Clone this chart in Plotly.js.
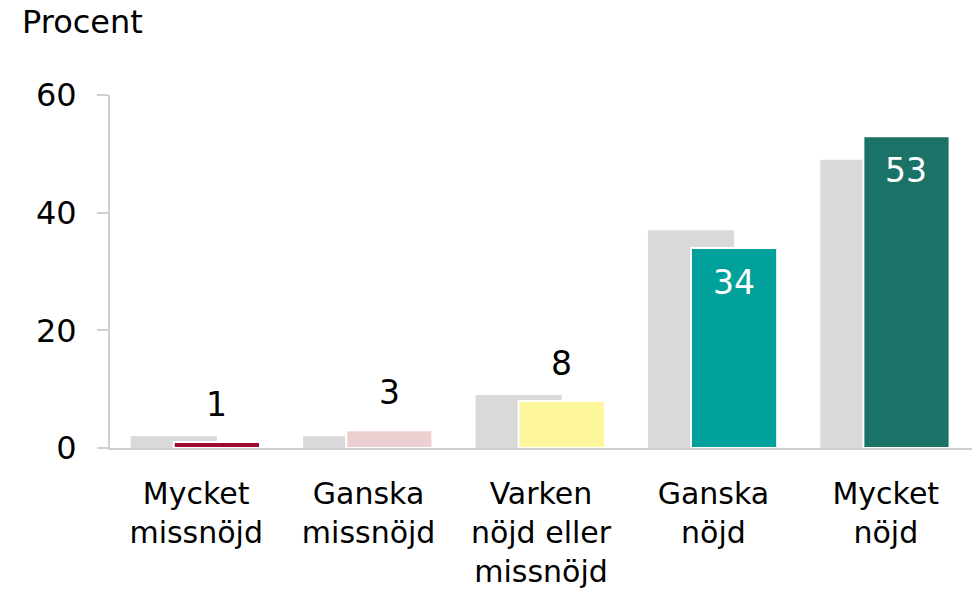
<!DOCTYPE html>
<html>
<head>
<meta charset="utf-8">
<script src="https://cdn.plot.ly/plotly-3.0.1.min.js"></script>
<style>html,body{margin:0;padding:0;background:#fff;}#chart{width:977px;height:595px;}</style>
</head>
<body>
<div id="chart"></div>
<script>
const categories = ["Mycket<br>missnöjd", "Ganska<br>missnöjd", "Varken<br>nöjd eller<br>missnöjd", "Ganska<br>nöjd", "Mycket<br>nöjd"];
const previousValues = [2, 2, 9, 37, 49];
const currentValues = [1, 3, 8, 34, 53];
const barColors = ["#9e0b2f", "#ecd0d1", "#fdf69b", "#00a19b", "#1b7266"];
const yTicks = [0, 20, 40, 60];

const xs = categories.map((c, i) => i);
const FONT = "DejaVu Sans, Arial, sans-serif";

const traces = [
  {
    type: "bar", x: xs, y: previousValues,
    width: 0.5, offset: -0.38,
    marker: {color: "#d9d9d9"},
    hoverinfo: "skip", showlegend: false
  },
  {
    type: "bar", x: xs, y: currentValues,
    width: 0.5, offset: -0.13,
    marker: {color: barColors, line: {color: "#ffffff", width: 2}},
    hoverinfo: "skip", showlegend: false
  }
];

const annotations = currentValues.map((v, i) => {
  const inside = v > 20;
  return {
    x: i + 0.12, y: v, xref: "x", yref: "y",
    text: String(v), showarrow: false,
    yanchor: inside ? "top" : "bottom",
    yshift: inside ? -13 : 16,
    font: {family: FONT, size: 33, color: inside ? "#ffffff" : "#000000"}
  };
});
annotations.push({
  xref: "paper", yref: "paper", x: -0.104, y: 1.207,
  xanchor: "left", yanchor: "middle",
  text: "Procent", showarrow: false,
  font: {family: FONT, size: 32, color: "#000000"}
});

const layout = {
  width: 977, height: 595,
  margin: {l: 110, r: 5, t: 95, b: 147},
  paper_bgcolor: "#ffffff", plot_bgcolor: "#ffffff",
  barmode: "overlay",
  font: {family: FONT, color: "#000000"},
  xaxis: {
    range: [-0.5, 4.5], tickvals: xs, ticktext: categories,
    showgrid: false, zeroline: false,
    showline: true, linecolor: "#d0d0d0", linewidth: 2,
    ticks: "", ticklabelstandoff: 18,
    tickfont: {family: FONT, size: 30, color: "#000000"}
  },
  yaxis: {
    range: [0, 60], tickvals: yTicks,
    showgrid: false, zeroline: false,
    showline: true, linecolor: "#d0d0d0", linewidth: 2,
    ticks: "outside", ticklen: 11, tickcolor: "#d0d0d0", tickwidth: 2,
    ticklabelstandoff: 14,
    tickfont: {family: FONT, size: 32, color: "#000000"}
  },
  annotations: annotations
};

Plotly.newPlot("chart", traces, layout, {displayModeBar: false, staticPlot: true});
</script>
</body>
</html>
